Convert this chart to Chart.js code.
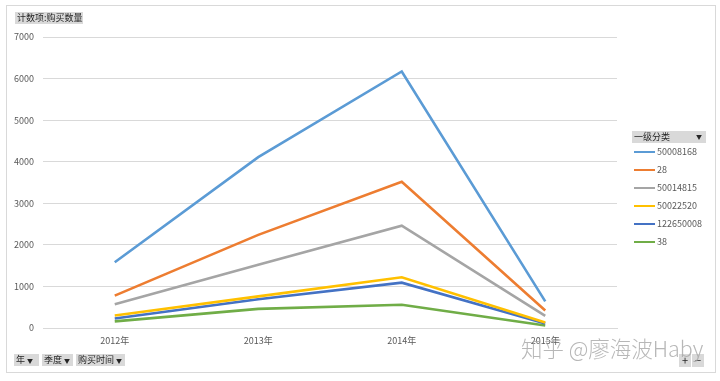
<!DOCTYPE html>
<html><head><meta charset="utf-8">
<script src="https://cdn.jsdelivr.net/npm/chart.js@4/dist/chart.umd.min.js"></script>
<style>
html,body{margin:0;padding:0;background:#fff;}
body{width:720px;height:381px;position:relative;overflow:hidden;font-family:"Noto Sans CJK SC","Noto Sans",sans-serif;}
#frame{position:absolute;left:6px;top:5px;width:710px;height:368px;border:1px solid #d9d9d9;box-sizing:border-box;}
#wrap{position:absolute;left:0;top:0;width:720px;height:381px;}
.btn{position:absolute;background:#d9d9d9;color:#262626;font-size:9px;line-height:12px;height:12px;padding:0 2px;white-space:nowrap;box-sizing:border-box;}
#legend{position:absolute;left:632px;top:131px;width:74px;}
#ltitle{background:#d9d9d9;height:12px;font-size:9px;line-height:12px;color:#262626;padding-left:2px;position:relative;}
#ltitle span{position:absolute;right:4px;top:0;font-size:6px;}
.li{position:relative;height:18px;font-size:9px;color:#595959;}
.li i{position:absolute;left:2px;top:8px;width:21px;height:2px;}
.li b{position:absolute;left:25px;top:2px;font-weight:normal;line-height:14px;}
#wm{position:absolute;left:521px;top:332px;font-size:21.5px;color:rgba(165,165,165,0.8);white-space:nowrap;font-family:"Noto Sans CJK SC",sans-serif;font-weight:300;}
</style></head>
<body>
<div id="frame"></div>
<div id="wrap"><canvas id="c" width="720" height="381"></canvas></div>
<div class="btn" style="left:15px;top:12px;width:68px;">计数项:购买数量</div>
<div id="legend"><div id="ltitle">一级分类<span>▼</span></div></div>
<div class="btn" style="left:14px;top:354px;width:25px;">年 <span style="font-size:6px">▼</span></div>
<div class="btn" style="left:42px;top:354px;width:31px;">季度 <span style="font-size:6px">▼</span></div>
<div class="btn" style="left:76px;top:354px;width:49px;">购买时间 <span style="font-size:6px">▼</span></div>
<div class="btn" style="left:679px;top:354px;width:12px;height:13px;padding:0;text-align:center;font-size:11px;">+</div>
<div class="btn" style="left:692px;top:354px;width:12px;height:13px;padding:0;text-align:center;font-size:11px;">−</div>
<div id="wm">知乎 @廖海波Haby</div>
<script>
const categories = ["2012年", "2013年", "2014年", "2015年"];
const seriesNames = ["50008168", "28", "50014815", "50022520", "122650008", "38"];
const s50008168 = [1580, 4110, 6170, 640];
const s28 = [780, 2240, 3520, 420];
const s50014815 = [570, 1520, 2460, 290];
const s50022520 = [300, 760, 1220, 130];
const s122650008 = [230, 690, 1090, 110];
const s38 = [160, 460, 560, 60];
const yTicks = [0, 1000, 2000, 3000, 4000, 5000, 6000, 7000];

const values = [s50008168, s28, s50014815, s50022520, s122650008, s38];
const colors = ["#5B9BD5", "#ED7D31", "#A5A5A5", "#FFC000", "#4472C4", "#70AD47"];

const legend = document.getElementById('legend');
seriesNames.forEach((n, i) => {
  const d = document.createElement('div');
  d.className = 'li';
  d.innerHTML = '<i style="background:' + colors[i] + '"></i><b>' + n + '</b>';
  legend.appendChild(d);
});

new Chart(document.getElementById('c'), {
  type: 'line',
  data: {
    labels: categories,
    datasets: seriesNames.map((n, i) => ({
      label: n, data: values[i], borderColor: colors[i], backgroundColor: colors[i],
      borderWidth: 2.6, pointRadius: 0, tension: 0, fill: false
    }))
  },
  options: {
    responsive: false, animation: false,
    layout: { padding: { left: 0, right: 103, top: 37, bottom: 22 } },
    plugins: { legend: { display: false }, tooltip: { enabled: false } },
    scales: {
      x: {
        offset: true,
        grid: { display: false, drawTicks: false },
        border: { display: true, color: '#d9d9d9', width: 1 },
        ticks: { color: '#595959', font: { size: 9, family: '"Noto Sans CJK SC"' }, padding: 7, maxRotation: 0 },
        afterFit: s => { s.height = 31; }
      },
      y: {
        min: 0, max: 7000,
        afterBuildTicks: s => { s.ticks = yTicks.map(v => ({ value: v })); },
        grid: { color: '#d9d9d9', drawTicks: false, lineWidth: 1 },
        border: { display: false },
        ticks: { color: '#595959', font: { size: 9, family: '"Noto Sans CJK SC"' }, padding: 9, callback: v => String(v) },
        afterFit: s => { s.width = 43; }
      }
    }
  }
});
</script>
</body></html>
